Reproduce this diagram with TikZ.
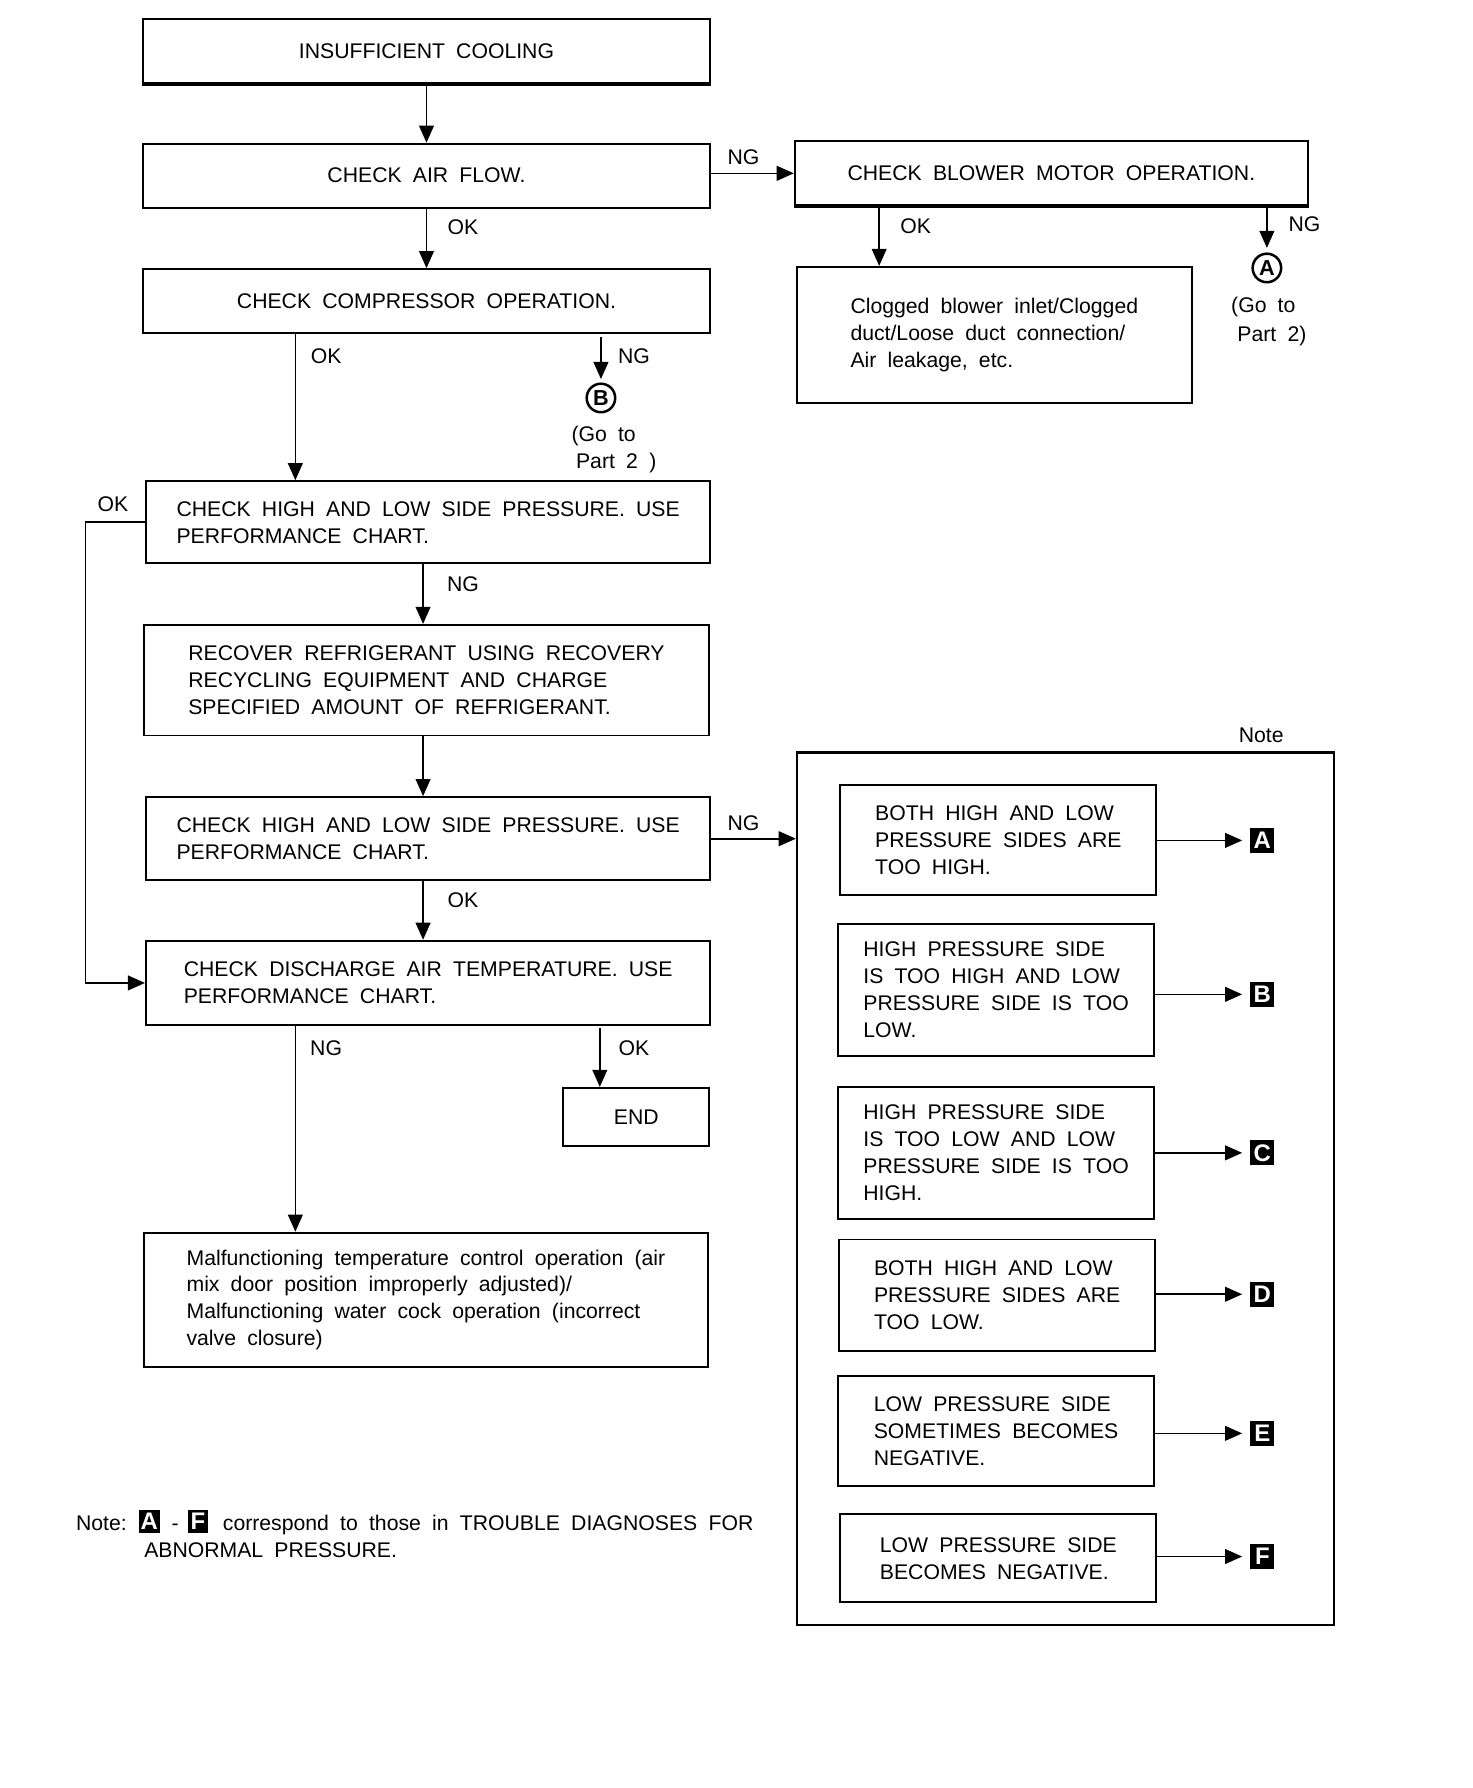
\documentclass[tikz,border=0pt]{standalone}
\usepackage{fontspec}
\setmainfont{Liberation Sans}[WordSpace=1.9]
\usetikzlibrary{arrows.meta}
\newcommand\myfs{\fontsize{18.6}{23.6}\selectfont}
\newcommand\mysq{\fontsize{21}{21}\selectfont\bfseries}
\newcommand\mycf{\fontsize{19}{19}\selectfont\bfseries}
\begin{document}
\begin{tikzpicture}[x=1pt,y=-1pt,
  box/.style={draw,line width=1.7pt,align=left,inner sep=0pt,font=\myfs},
  arr/.style={line width=1.4pt,-{Triangle[length=15pt,width=13pt]}},
  lab/.style={font=\myfs,inner sep=0pt},
  sq/.style={fill=black,text=white,font=\mysq,minimum width=21pt,minimum height=22pt,inner sep=0pt},
  nsq/.style={fill=black,text=white,font=\mysq,minimum width=18pt,minimum height=20pt,inner sep=0pt},
  circ/.style={draw,circle,line width=2.2pt,minimum size=25pt,inner sep=0pt,font=\mycf}]
\useasboundingbox (0,0) rectangle (1291,1568);

% main column
\node[box,minimum width=498pt,minimum height=56pt] (b1) at (374,45) {INSUFFICIENT COOLING};
\node[box,minimum width=498pt,minimum height=56pt] (b2) at (374,154) {CHECK AIR FLOW.};
\node[box,minimum width=450pt,minimum height=56pt] (b3) at (922,152) {CHECK BLOWER MOTOR OPERATION.};
\node[box,minimum width=498pt,minimum height=56pt] (b4) at (374,264) {CHECK COMPRESSOR OPERATION.};
\node[box,minimum width=346pt,minimum height=119pt] (b5) at (872,293.5) {Clogged blower inlet/Clogged\\duct/Loose duct connection/\\Air leakage, etc.};
\node[box,minimum width=495pt,minimum height=72pt] (b6) at (375.5,458) {CHECK HIGH AND LOW SIDE PRESSURE. USE\\PERFORMANCE CHART.};
\node[box,minimum width=496pt,minimum height=97pt] (b7) at (374,596.5) {RECOVER REFRIGERANT USING RECOVERY\\RECYCLING EQUIPMENT AND CHARGE\\SPECIFIED AMOUNT OF REFRIGERANT.};
\node[box,minimum width=495pt,minimum height=73pt] (b8) at (375.5,735.5) {CHECK HIGH AND LOW SIDE PRESSURE. USE\\PERFORMANCE CHART.};
\node[box,minimum width=495pt,minimum height=74pt] (b9) at (375.5,862) {CHECK DISCHARGE AIR TEMPERATURE. USE\\PERFORMANCE CHART.};
\node[box,minimum width=128pt,minimum height=51pt] (end) at (558,979.5) {END};
\node[box,minimum width=495pt,minimum height=118pt] (b10) at (373.5,1140) {Malfunctioning temperature control operation (air\\mix door position improperly adjusted)/\\Malfunctioning water cock operation (incorrect\\valve closure)};
\draw[line width=2.8pt] (b1.south west) -- (b1.south east);
\draw[line width=2.6pt] (b3.south west) -- (b3.south east);

% circles
\node[circ] (cA) at (1111,235) {A};
\node[circ] (cB) at (527,349) {B};
\node[lab,anchor=base west] (gA1) at (1079.5,274) {(Go to};
\node[lab,anchor=base west] (gA2) at (1085,299.5) {Part 2)};
\node[lab,anchor=base west] (gB1) at (501,387.5) {(Go to};
\node[lab,anchor=base west] (gB2) at (505,410.5) {Part 2\hspace{10pt})};

% connectors
\draw[arr] (b1) -- (b2);
\draw[arr] (b2) -- (b4);
\draw[arr] (b3.west -| b2.east) -- (b3.west);
\draw[arr] (b3.south -| 771,0) -- (b5.north -| 771,0);
\draw[arr,shorten >=4pt] (b3.south -| cA) -- (cA.north);
\draw[arr] (b4.south -| 259,0) -- (b6.north -| 259,0);
\draw[arr,shorten >=3pt] ([yshift=-3pt]b4.south -| cB) -- (cB.north);
\draw[arr] (b6.west) -- ++(-52,0) |- (b9.west);
\draw[arr] (b6.south -| 371,0) -- (b7.north -| 371,0);
\draw[arr] (b7.south -| 371,0) -- (b8.north -| 371,0);
\draw[arr] (b8.south -| 371,0) -- (b9.north -| 371,0);
\draw[arr] (b9.south -| 259,0) -- (b10.north -| 259,0);
\draw[arr] ([yshift=-2pt]b9.south -| 526,0) -- (end.north -| 526,0);

% labels
\node[lab] (l1) at (652,138) {NG};
\node[lab] (l2) at (406,199) {OK};
\node[lab] (l3) at (803,198) {OK};
\node[lab] (l4) at (1144,197) {NG};
\node[lab] (l5) at (286,312) {OK};
\node[lab] (l6) at (556,312) {NG};
\node[lab] (l7) at (99,442) {OK};
\node[lab] (l8) at (406,512) {NG};
\node[lab] (l9) at (652,722) {NG};
\node[lab] (l10) at (406,789) {OK};
\node[lab] (l11) at (286,919) {NG};
\node[lab] (l12) at (556,919) {OK};

% note panel
\node[draw,line width=2.2pt,minimum width=471pt,minimum height=765pt,inner sep=0pt] (big) at (934.5,1042.5) {};
\node[lab] (notelab) at (1106,645) {Note};
\draw[arr] (b8.east) -- (big.west |- b8.east);

\node[box,minimum width=277pt,minimum height=97pt] (nA) at (875.5,736.5) {BOTH HIGH AND LOW\\PRESSURE SIDES ARE\\TOO HIGH.};
\node[box,minimum width=277pt,minimum height=116pt] (nB) at (873.5,868) {HIGH PRESSURE SIDE\\IS TOO HIGH AND LOW\\PRESSURE SIDE IS TOO\\LOW.};
\node[box,minimum width=277pt,minimum height=116pt] (nC) at (873.5,1011) {HIGH PRESSURE SIDE\\IS TOO LOW AND LOW\\PRESSURE SIDE IS TOO\\HIGH.};
\node[box,minimum width=277pt,minimum height=98pt] (nD) at (874.5,1136) {BOTH HIGH AND LOW\\PRESSURE SIDES ARE\\TOO LOW.};
\node[box,minimum width=277pt,minimum height=96pt] (nE) at (873.5,1255) {LOW PRESSURE SIDE\\SOMETIMES BECOMES\\NEGATIVE.};
\node[box,minimum width=277pt,minimum height=77pt] (nF) at (875.5,1366.5) {LOW PRESSURE SIDE\\BECOMES NEGATIVE.};

\node[sq] (sA) at (1107,737) {A};
\node[sq] (sB) at (1107,872) {B};
\node[sq] (sC) at (1107,1011) {C};
\node[sq] (sD) at (1107,1135) {D};
\node[sq] (sE) at (1107,1257) {E};
\node[sq] (sF) at (1107,1365) {F};
\foreach \n in {A,B,C,D,E,F}{
  \draw[arr,shorten >=7pt] (n\n.east |- s\n.west) -- (s\n.west);
}

% bottom note
\node[lab,anchor=base west] (nt1) at (66.5,1342.6) {Note:};
\node[nsq] (nqA) at (131,1334) {A};
\node[lab,anchor=base] (ntd) at (153.5,1342.6) {-};
\node[nsq] (nqF) at (173.5,1334) {F};
\node[lab,anchor=base west] (nt2) at (195.3,1342.6) {correspond to those in TROUBLE DIAGNOSES FOR};
\node[lab,anchor=base west] (nt3) at (126.3,1366) {ABNORMAL PRESSURE.};
\end{tikzpicture}
\end{document}
